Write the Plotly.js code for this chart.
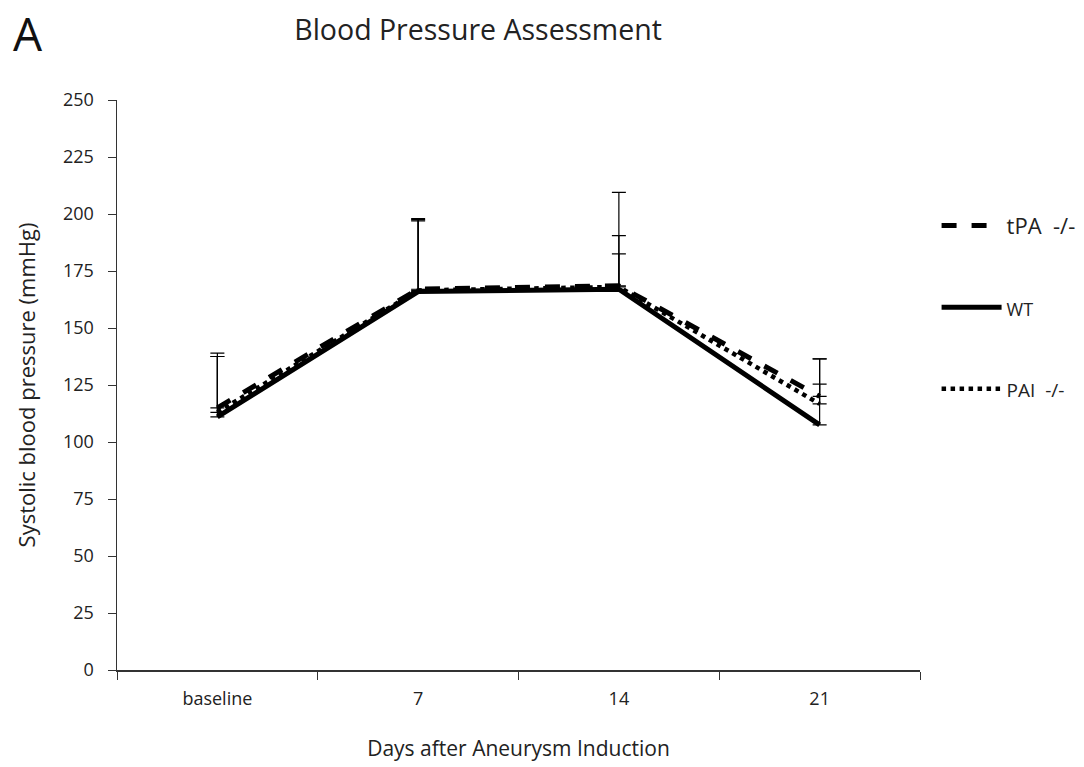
<!DOCTYPE html>
<html>
<head>
<meta charset="utf-8">
<script src="https://cdn.plot.ly/plotly-3.0.1.min.js"></script>
<style>html,body{margin:0;padding:0;background:#fff;}#chart{width:1084px;height:767px;}</style>
</head>
<body>
<div id="chart"></div>
<script>
const categories = ["baseline", "7", "14", "21"];
const tpaValues = [115, 167, 168.5, 120];
const tpaErrors = [24, 31, 41, 16.5];
const wtValues = [111, 166, 167, 107.5];
const wtErrors = [26.5, 31, 23.5, 29];
const paiValues = [113, 166.5, 168, 116.7];
const paiErrors = [24.5, 31, 14.5, 8.7];
const seriesNames = ["tPA\u00A0\u00A0-/-", "WT", "PAI\u00A0\u00A0-/-"];
const yTicks = [0, 25, 50, 75, 100, 125, 150, 175, 200, 225, 250];

function errBar(arr) {
  return {type: 'data', symmetric: false, array: arr, arrayminus: arr.map(() => 0),
          color: '#000', thickness: 1.2, width: 7};
}
function errTrace(vals, errs) {
  return {x: categories, y: vals, mode: 'none', showlegend: false, hoverinfo: 'skip', error_y: errBar(errs)};
}

const traces = [
  errTrace(wtValues, wtErrors),
  errTrace(paiValues, paiErrors),
  errTrace(tpaValues, tpaErrors),
  {x: categories, y: wtValues, name: '<span style="font-size:18px">' + seriesNames[1] + '</span>',
   mode: 'lines', legendgroup: 'b', legendrank: 2,
   line: {color: '#000', width: 5, dash: 'solid'}},
  {x: categories, y: paiValues, name: '<span style="font-size:19px">' + seriesNames[2] + '</span>',
   mode: 'lines', legendgroup: 'c', legendrank: 3,
   line: {color: '#000', width: 4.5, dash: 'dot'}},
  {x: categories, y: tpaValues, name: seriesNames[0], mode: 'lines', legendgroup: 'a', legendrank: 1,
   line: {color: '#000', width: 5, dash: 'dash'}}
];

const layout = {
  width: 1084, height: 767,
  margin: {l: 117, r: 164, t: 100, b: 97},
  paper_bgcolor: '#fff', plot_bgcolor: '#fff',
  font: {family: 'Open Sans, sans-serif', color: '#222'},
  title: {text: 'Blood Pressure Assessment', x: 0.441, xanchor: 'center', y: 0.961, yanchor: 'middle',
          font: {size: 28.5, color: '#222'}},
  xaxis: {
    type: 'category', range: [-0.5, 3.5], tickson: 'boundaries',
    showline: true, linecolor: '#333', linewidth: 1.5, showgrid: false, zeroline: false,
    ticks: 'outside', ticklen: 8, tickcolor: '#333', ticklabelstandoff: 12,
    tickfont: {size: 18, color: '#222'},
    title: {text: 'Days after Aneurysm Induction', font: {size: 21, color: '#222'}, standoff: 32}
  },
  yaxis: {
    range: [0, 250], tickvals: yTicks, showline: true, linecolor: '#333', linewidth: 1.5,
    showgrid: false, zeroline: false, ticks: 'outside', ticklen: 8, tickcolor: '#333',
    tickfont: {size: 18, color: '#222'}, ticklabelstandoff: 10,
    title: {text: 'Systolic blood pressure (mmHg)', font: {size: 22, color: '#222'}, standoff: 21}
  },
  showlegend: true,
  legend: {xref: 'container', yref: 'container', x: 0.864, xanchor: 'left', y: 0.733, yanchor: 'top',
           bgcolor: 'rgba(0,0,0,0)', font: {size: 22, color: '#222'}, tracegroupgap: 50,
           itemwidth: 60, traceorder: 'grouped'},
  annotations: [
    {text: 'A', xref: 'paper', yref: 'paper', x: -0.111, y: 1.1754, xanchor: 'center', yanchor: 'top',
     showarrow: false, font: {size: 46, color: '#111'}}
  ]
};

Plotly.newPlot('chart', traces, layout, {displayModeBar: false, staticPlot: true});
</script>
</body>
</html>
